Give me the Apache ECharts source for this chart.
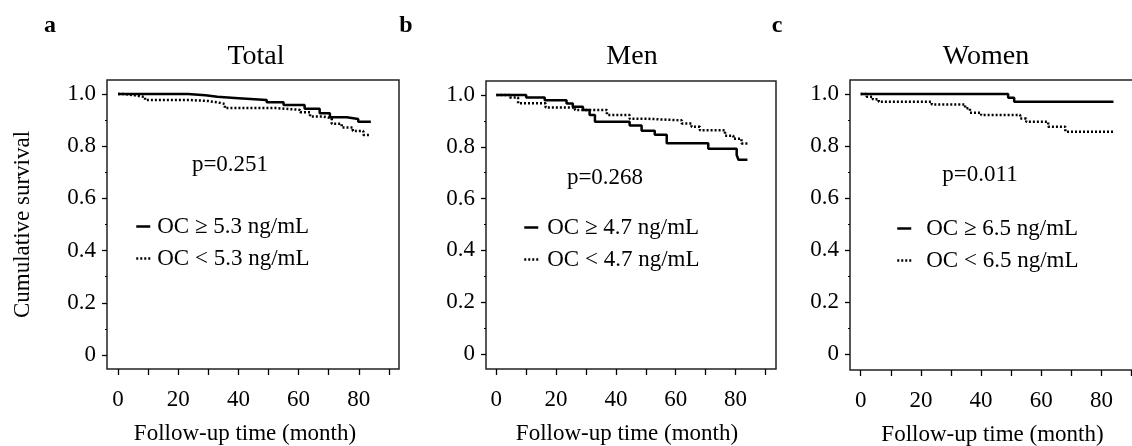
<!DOCTYPE html>
<html>
<head>
<meta charset="utf-8">
<title>Cumulative survival by OC</title>
<script src="https://cdn.jsdelivr.net/npm/echarts@6/dist/echarts.min.js"></script>
<style>
  html, body { margin: 0; padding: 0; background: #fff; }
  #chart { width: 1132px; height: 446px; }
</style>
</head>
<body>
<div id="chart"></div>
<script>
// ---- data ----
var panelTitles = ['Total', 'Men', 'Women'];
var panelLetters = ['a', 'b', 'c'];
var pValues = ['p=0.251', 'p=0.268', 'p=0.011'];
var highLabels = ['OC \u2265 5.3 ng/mL', 'OC \u2265 4.7 ng/mL', 'OC \u2265 6.5 ng/mL'];
var lowLabels = ['OC < 5.3 ng/mL', 'OC < 4.7 ng/mL', 'OC < 6.5 ng/mL'];
var xTickValues = [0, 10, 20, 30, 40, 50, 60, 70, 80, 90];
var xLabelValues = [0, 20, 40, 60, 80];
var yLabelValues = [0, 0.2, 0.4, 0.6, 0.8, 1.0];
var yMinorValues = [0.1, 0.3, 0.5, 0.7, 0.9];

var totalHighTime = [0, 23.3, 29, 33, 40, 49.4, 55, 62, 67, 70.4, 76, 79.8, 84];
var totalHighSurv = [1, 0.995, 0.989, 0.984, 0.977, 0.968, 0.958, 0.943, 0.926, 0.911, 0.904, 0.894, 0.894];
var totalLowTime = [0, 1.7, 5.6, 9, 24, 30, 33, 35.5, 52.7, 60.5, 63.8, 68, 71, 74.3, 78, 81.5, 84];
var totalLowSurv = [1, 0.995, 0.988, 0.977, 0.973, 0.968, 0.962, 0.946, 0.939, 0.93, 0.914, 0.907, 0.886, 0.872, 0.858, 0.843, 0.843];

var menHighTime = [0, 10, 16.2, 23.5, 25.6, 29, 31.2, 33, 44.6, 48.6, 53, 57, 70.9, 80.4, 81, 84];
var menHighSurv = [1, 0.99, 0.98, 0.967, 0.955, 0.942, 0.923, 0.897, 0.882, 0.862, 0.846, 0.814, 0.792, 0.768, 0.75, 0.75];
var menLowTime = [0, 4.5, 7.3, 16.5, 26.3, 37, 44.6, 50.8, 62, 65.3, 68.1, 76.5, 79.3, 82, 84];
var menLowSurv = [1, 0.99, 0.968, 0.952, 0.942, 0.923, 0.908, 0.902, 0.89, 0.877, 0.864, 0.843, 0.831, 0.813, 0.813];

var womenHighTime = [0, 49, 51, 84];
var womenHighSurv = [1, 0.986, 0.97, 0.97];
var womenLowTime = [0, 2, 4, 6, 23.6, 34.7, 36.3, 40, 53, 55, 62.3, 68, 84];
var womenLowSurv = [1, 0.99, 0.98, 0.97, 0.96, 0.945, 0.928, 0.919, 0.906, 0.893, 0.874, 0.855, 0.855];

var highSeries = [[totalHighTime, totalHighSurv], [menHighTime, menHighSurv], [womenHighTime, womenHighSurv]];
var lowSeries = [[totalLowTime, totalLowSurv], [menLowTime, menLowSurv], [womenLowTime, womenLowSurv]];

// ---- layout ----
var FONT = '"Liberation Serif", "Times New Roman", serif';
var FS = 23;
var grids = [
  { left: 107, top: 80, width: 292, height: 289 },
  { left: 486, top: 81, width: 290, height: 288 },
  { left: 850, top: 80, width: 293, height: 290 }
];
var xRanges = [[-3.65, 93.35], [-3.44, 93.55], [-3.55, 93.8]];
var yRanges = [[-0.0536, 1.0536], [-0.058, 1.054], [-0.0615, 1.054]];
var titlePos = [[256, 57], [632, 57], [986, 57]];
var letterPos = [[50, 26], [406, 26], [777, 26]];
var pPos = [[230, 165], [605, 178], [980, 175]];
var legendPos = [[130, 210], [518, 211], [891, 212]];
var legendTextPad = [2, 4, 10];
var xNameShift = [16, 8, 8];

function pairs(t, s) {
  return t.map(function (v, i) { return [v, s[i]]; });
}

var option = {
  animation: false,
  backgroundColor: '#fff',
  grid: [],
  xAxis: [],
  yAxis: [],
  legend: [],
  series: [],
  graphic: []
};

for (var i = 0; i < 3; i++) {
  option.grid.push({
    left: grids[i].left, top: grids[i].top, width: grids[i].width, height: grids[i].height,
    containLabel: false, outerBoundsMode: 'none',
    show: true, borderColor: '#222', borderWidth: 1.5, backgroundColor: 'transparent'
  });
  option.xAxis.push({
    type: 'value', gridIndex: i, min: xRanges[i][0], max: xRanges[i][1], position: 'bottom',
    axisLine: { show: false, onZero: false },
    axisTick: { show: true, customValues: xTickValues, length: 6, lineStyle: { color: '#000', width: 1.3 } },
    axisLabel: { customValues: xLabelValues, margin: 19, color: '#000', fontFamily: FONT, fontSize: FS },
    splitLine: { show: false },
    name: 'Follow-up time (month)', nameLocation: 'middle', nameGap: 53,
    nameTextStyle: { color: '#000', fontFamily: FONT, fontSize: FS, padding: [0, xNameShift[i], 0, 0] }
  });
  option.yAxis.push({
    type: 'value', gridIndex: i, min: yRanges[i][0], max: yRanges[i][1], position: 'left',
    axisLine: { show: false, onZero: false },
    axisTick: { show: true, customValues: yLabelValues, length: 5, lineStyle: { color: '#000', width: 1.3 } },
    axisLabel: {
      customValues: yLabelValues, margin: 11, color: '#000', fontFamily: FONT, fontSize: FS,
      formatter: function (v) { return Math.abs(v) < 1e-9 ? '0' : v.toFixed(1); }
    },
    splitLine: { show: false },
    name: i === 0 ? 'Cumulative survival' : '', nameLocation: 'middle', nameGap: 73,
    nameTextStyle: { color: '#000', fontFamily: FONT, fontSize: FS }
  });

  option.series.push({
    name: highLabels[i], type: 'line', xAxisIndex: i, yAxisIndex: i,
    step: 'end', symbol: 'none', data: pairs(highSeries[i][0], highSeries[i][1]),
    lineStyle: { color: '#000', width: 2.5, type: 'solid' }, itemStyle: { color: '#000' }
  });
  option.series.push({
    name: lowLabels[i], type: 'line', xAxisIndex: i, yAxisIndex: i,
    step: 'end', symbol: 'none', data: pairs(lowSeries[i][0], lowSeries[i][1]),
    lineStyle: { color: '#000', width: 2.5, type: [2, 2] }, itemStyle: { color: '#000' }
  });

  option.legend.push({
    data: [highLabels[i], lowLabels[i]], orient: 'vertical',
    left: legendPos[i][0], top: legendPos[i][1],
    itemWidth: 14, itemHeight: 10, itemGap: 9,
    selectedMode: false,
    itemStyle: { opacity: 0 },
    lineStyle: { width: 2.5 },
    textStyle: { color: '#000', fontFamily: FONT, fontSize: FS, padding: [0, 0, 0, legendTextPad[i]] }
  });

  option.graphic.push({
    type: 'text', x: titlePos[i][0], y: titlePos[i][1],
    style: { text: panelTitles[i], textAlign: 'center', textVerticalAlign: 'middle', font: '28px ' + FONT, fill: '#000' }
  });
  option.graphic.push({
    type: 'text', x: letterPos[i][0], y: letterPos[i][1],
    style: { text: panelLetters[i], textAlign: 'center', textVerticalAlign: 'middle', font: 'bold 24px ' + FONT, fill: '#000' }
  });
  option.graphic.push({
    type: 'text', x: pPos[i][0], y: pPos[i][1],
    style: { text: pValues[i], textAlign: 'center', textVerticalAlign: 'middle', font: FS + 'px ' + FONT, fill: '#000' }
  });
}

// short minor ticks on the survival axes
for (var j = 0; j < 3; j++) {
  option.yAxis.push({
    type: 'value', gridIndex: j, min: yRanges[j][0], max: yRanges[j][1], position: 'left',
    axisLine: { show: false, onZero: false },
    axisTick: { show: true, customValues: yMinorValues, length: 2, lineStyle: { color: '#000', width: 1.2 } },
    axisLabel: { show: false },
    splitLine: { show: false }
  });
}

var chart = echarts.init(document.getElementById('chart'), null, { renderer: 'canvas' });
chart.setOption(option);
</script>
</body>
</html>
